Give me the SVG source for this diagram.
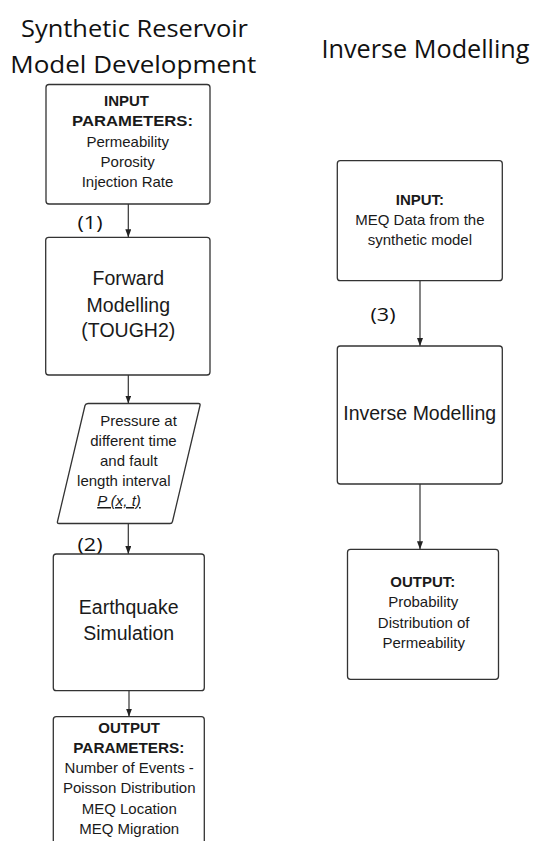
<svg xmlns="http://www.w3.org/2000/svg" width="536" height="841" viewBox="0 0 536 841">
<style>
.bg{fill:#ffffff}
.box{fill:#ffffff;stroke:#333333;stroke-width:1.3}
.edge{fill:none;stroke:#333333;stroke-width:1.2}
.t{font-family:"Liberation Sans",Arial,sans-serif;font-size:15px;fill:#1a1a1a;text-anchor:middle}
.b{font-weight:bold}
.big{font-size:19.5px}
.title{font-family:"Open Sans","Noto Sans",sans-serif;fill:#111111;text-anchor:middle}
.lab{font-family:"Open Sans","Noto Sans",sans-serif;font-size:19px;fill:#111111;text-anchor:middle}
</style>
<defs>
<marker id="arr" viewBox="0 0 8 6" refX="8" refY="3" markerWidth="8" markerHeight="6" markerUnits="userSpaceOnUse" orient="auto">
<path d="M0,0 L8,3 L0,6 z" fill="#222222"/>
</marker>
</defs>
<rect class="bg" x="0" y="0" width="536" height="841"/>

<g id="titles">
<text class="title" x="134.5" y="36.7" font-size="23.5" textLength="227" lengthAdjust="spacingAndGlyphs">Synthetic Reservoir</text>
<text class="title" x="133.3" y="72.7" font-size="23.5" textLength="246" lengthAdjust="spacingAndGlyphs">Model Development</text>
<text class="title" x="425.5" y="58.3" font-size="25" textLength="208" lengthAdjust="spacingAndGlyphs">Inverse Modelling</text>
</g>

<g id="connectors">
<line class="edge" x1="128.3" y1="204" x2="128.3" y2="237.3" marker-end="url(#arr)"/>
<line class="edge" x1="128.3" y1="375" x2="128.3" y2="403.5" marker-end="url(#arr)"/>
<line class="edge" x1="128.3" y1="523.5" x2="128.3" y2="554" marker-end="url(#arr)"/>
<line class="edge" x1="129" y1="690.7" x2="129" y2="716.7" marker-end="url(#arr)"/>
<line class="edge" x1="420" y1="280.7" x2="420" y2="346" marker-end="url(#arr)"/>
<line class="edge" x1="420" y1="484" x2="420" y2="549.3" marker-end="url(#arr)"/>
</g>

<g id="labels">
<text class="lab" x="90" y="229" textLength="25" lengthAdjust="spacingAndGlyphs">(1)</text>
<text class="lab" x="90" y="551" textLength="25" lengthAdjust="spacingAndGlyphs">(2)</text>
<text class="lab" x="383" y="321" textLength="25" lengthAdjust="spacingAndGlyphs">(3)</text>
</g>

<g id="input-parameters">
<rect class="box" x="46" y="84.5" width="164" height="119.5" rx="3"/>
<text class="t b" x="126.5" y="106" font-size="13.5">INPUT</text>
<text class="t b" x="132.5" y="126" textLength="121" lengthAdjust="spacingAndGlyphs">PARAMETERS:</text>
<text class="t" x="127.7" y="146.5">Permeability</text>
<text class="t" x="127.7" y="166.7">Porosity</text>
<text class="t" x="127.5" y="187">Injection Rate</text>
</g>

<g id="forward-modelling">
<rect class="box" x="45.7" y="237.3" width="164.3" height="137.7" rx="3"/>
<text class="t big" x="128.3" y="285">Forward</text>
<text class="t big" x="128.3" y="311.5">Modelling</text>
<text class="t big" x="128.3" y="337">(TOUGH2)</text>
</g>

<g id="pressure">
<path class="box" d="M88,403.5 L198.5,403.5 Q200.5,403.5 200,405.5 L172.5,521.5 Q172,523.5 170,523.5 L59,523.5 Q57,523.5 57.5,521.5 L85,405.5 Q85.5,403.5 88,403.5 Z"/>
<text class="t" x="138.5" y="425.5">Pressure at</text>
<text class="t" x="133.5" y="445.5">different time</text>
<text class="t" x="128.8" y="465.5">and fault</text>
<text class="t" x="123.8" y="485.5">length interval</text>
<text class="t" x="119" y="506" font-style="italic" text-decoration="underline">P (x, t)</text>
</g>

<g id="earthquake-simulation">
<rect class="box" x="53.3" y="554" width="151" height="136.7" rx="3"/>
<text class="t big" x="128.7" y="614">Earthquake</text>
<text class="t big" x="128.7" y="640">Simulation</text>
</g>

<g id="output-parameters">
<rect class="box" x="53.3" y="716.7" width="151" height="140" rx="3"/>
<text class="t b" x="129.2" y="732.7">OUTPUT</text>
<text class="t b" x="128.8" y="752.7" textLength="111" lengthAdjust="spacingAndGlyphs">PARAMETERS:</text>
<text class="t" x="129.2" y="773.3">Number of Events -</text>
<text class="t" x="129.2" y="793.3">Poisson Distribution</text>
<text class="t" x="129.2" y="814">MEQ Location</text>
<text class="t" x="129.2" y="834">MEQ Migration</text>
</g>

<g id="input-meq">
<rect class="box" x="337.3" y="160.7" width="165" height="120" rx="3"/>
<text class="t b" x="419.9" y="205">INPUT:</text>
<text class="t" x="419.9" y="225">MEQ Data from the</text>
<text class="t" x="419.9" y="245">synthetic model</text>
</g>

<g id="inverse-modelling">
<rect class="box" x="337.3" y="346" width="165" height="138" rx="3"/>
<text class="t big" x="419.7" y="420">Inverse Modelling</text>
</g>

<g id="output-probability">
<rect class="box" x="347.5" y="549.3" width="151" height="130" rx="3"/>
<text class="t b" x="422.8" y="587.3">OUTPUT:</text>
<text class="t" x="423.2" y="607.3">Probability</text>
<text class="t" x="423.7" y="627.7">Distribution of</text>
<text class="t" x="423.7" y="647.7">Permeability</text>
</g>
</svg>
